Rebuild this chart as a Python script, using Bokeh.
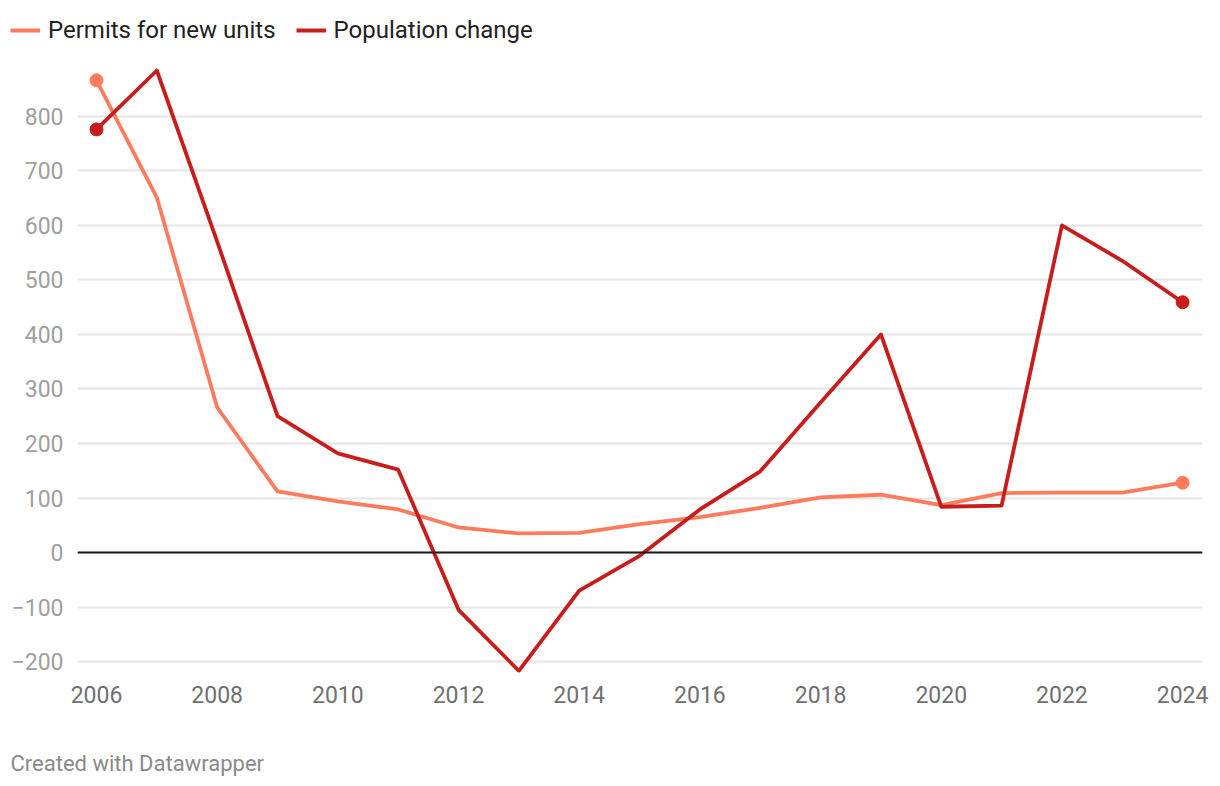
from bokeh.plotting import figure
from bokeh.layouts import column
from bokeh.models import Span, Legend, LegendItem, Label, FixedTicker, Range1d
from bokeh.embed import file_html
from bokeh.resources import INLINE

years = list(range(2006, 2025))
permits = [866, 651, 266, 112, 94, 79, 46, 35, 36, 52, 65, 82, 101, 106, 87, 109, 110, 110, 128]
population = [776, 884, 570, 250, 182, 152, -105, -217, -70, -6, 79, 149, 275, 400, 84, 86, 600, 535, 459]
y_ticks = [-200, -100, 0, 100, 200, 300, 400, 500, 600, 700, 800]
x_ticks = list(range(2006, 2025, 2))
series_names = ["Permits for new units", "Population change"]
colors = ["#ff7b5c", "#c71e1d"]
footer_text = "Created with Datawrapper"

FONT = "Roboto"
W = 1210


def strip(height):
    f = figure(width=W, height=height, output_backend="svg", toolbar_location=None,
               x_range=Range1d(0, 1), y_range=Range1d(0, 1),
               x_axis_location=None, y_axis_location=None,
               min_border_left=0, min_border_right=0, min_border_top=0, min_border_bottom=0)
    f.frame_align = False
    f.outline_line_color = None
    f.grid.grid_line_color = None
    return f


# ---- legend strip (its ranges exclude the data, so only the legend shows) ----
lg = strip(52)
lr1 = lg.line(years, permits, line_color=colors[0], line_width=4)
lr2 = lg.line(years, population, line_color=colors[1], line_width=4)
legend = Legend(items=[LegendItem(label=series_names[0], renderers=[lr1]),
                       LegendItem(label=series_names[1], renderers=[lr2])],
                orientation="horizontal", location=(10, 8),
                label_text_font=FONT, label_text_font_size="24px", label_text_color="#222222",
                glyph_width=30, glyph_height=24, label_height=24, label_standoff=8, spacing=20,
                padding=0, margin=0, border_line_color=None, background_fill_alpha=0)
lg.add_layout(legend, "center")

# ---- main chart ----
p = figure(width=W, height=660, output_backend="svg", toolbar_location=None,
           x_range=Range1d(2005.685, 2024.33), y_range=Range1d(-220, 917),
           min_border_left=77, min_border_right=8, min_border_top=0, min_border_bottom=40)
p.frame_align = False
p.outline_line_color = None
p.background_fill_color = "white"
p.border_fill_color = "white"

p.xgrid.grid_line_color = None
p.ygrid.grid_line_color = "#e5e5e5"
p.ygrid.grid_line_width = 2
p.yaxis.ticker = FixedTicker(ticks=y_ticks)
p.xaxis.ticker = FixedTicker(ticks=x_ticks)

for ax in (p.xaxis, p.yaxis):
    ax.axis_line_color = None
    ax.major_tick_line_color = None
    ax.minor_tick_line_color = None
    ax.major_tick_out = 0
    ax.major_tick_in = 0
    ax.major_label_text_font = FONT
    ax.major_label_text_font_size = "23px"
p.yaxis.major_label_text_color = "#a0a0a0"
p.xaxis.major_label_text_color = "#707070"
p.yaxis.major_label_standoff = 14
p.xaxis.major_label_standoff = 13

zero = Span(location=0, dimension="width", line_color="#1a1a1a", line_width=2)
p.add_layout(zero)

p.line(years, permits, line_color=colors[0], line_width=3.8, line_join="round")
p.line(years, population, line_color=colors[1], line_width=3.8, line_join="round")
p.scatter([years[0], years[-1]], [permits[0], permits[-1]], size=13, color=colors[0])
p.scatter([years[0], years[-1]], [population[0], population[-1]], size=13, color=colors[1])

# ---- footer strip ----
ft = strip(70)
ft.add_layout(Label(x=10, y=19, x_units="screen", y_units="screen", text=footer_text,
                    text_font=FONT, text_font_size="22px", text_color="#8a8a8a",
                    text_baseline="middle", text_align="left"))

layout = column(lg, p, ft, spacing=0)
open("out.html", "w").write(file_html(layout, INLINE))
